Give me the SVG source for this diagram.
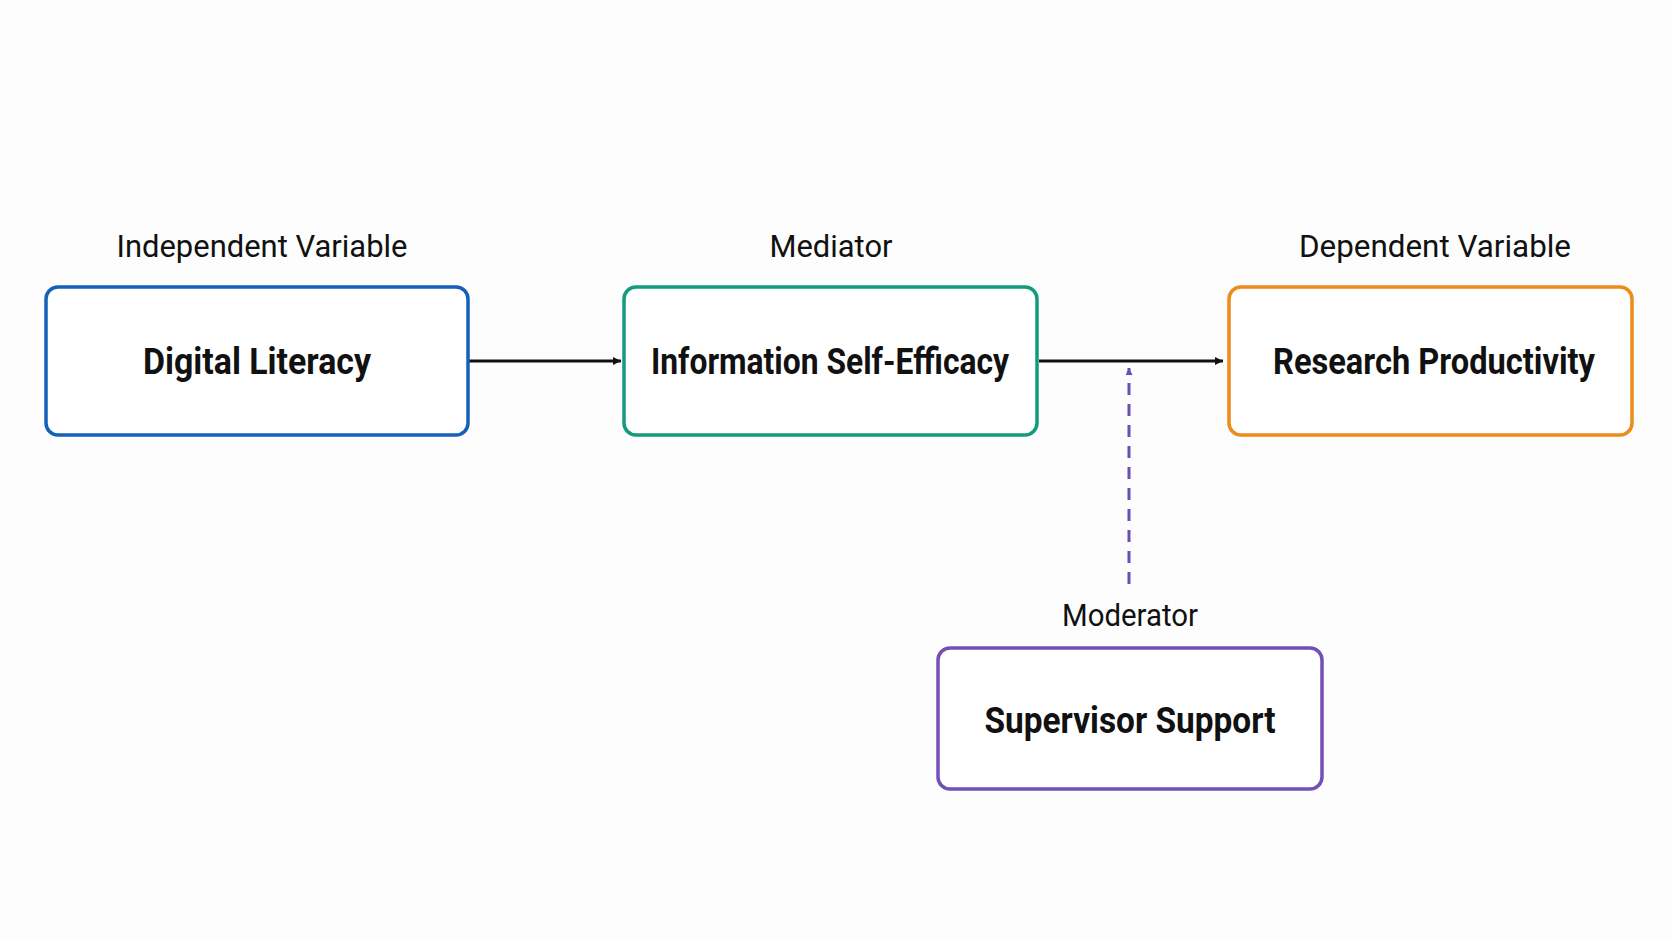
<svg xmlns="http://www.w3.org/2000/svg" width="1672" height="941" viewBox="0 0 1672 941">
<style>
.box{fill:#fff;stroke-width:3.5}
.t{font-family:Roboto,"Liberation Sans",sans-serif;font-weight:bold;font-size:36px;fill:#111;text-anchor:middle}
.l{font-family:Roboto,"Liberation Sans",sans-serif;font-size:32px;fill:#111;text-anchor:middle}
</style>
<defs>
<marker id="a" viewBox="0 0 10 10" refX="10" refY="5" markerWidth="8" markerHeight="8" markerUnits="userSpaceOnUse" orient="auto"><path d="M0,0L10,5L0,10z" fill="#111"/></marker>
<marker id="p" viewBox="0 0 10 10" refX="10" refY="5" markerWidth="7" markerHeight="7" markerUnits="userSpaceOnUse" orient="auto"><path d="M0,0L10,5L0,10z" fill="#6a4fb5"/></marker>
</defs>
<rect width="1672" height="941" fill="#fdfdfd"/>
<g id="connectors">
<line x1="469" y1="361" x2="621" y2="361" stroke="#111" stroke-width="3" marker-end="url(#a)" style="--m:0"/>
<line x1="1039" y1="361" x2="1223" y2="361" stroke="#111" stroke-width="3" marker-end="url(#a)"/>
<line x1="1129" y1="584" x2="1129" y2="368" stroke="#6a4fb5" stroke-width="3" stroke-dasharray="12,9" marker-end="url(#p)"/>
</g>
<g id="n1"><text class="l" x="262" y="257" textLength="291" lengthAdjust="spacingAndGlyphs">Independent Variable</text>
<rect class="box" x="46" y="287" width="422" height="148" rx="12" stroke="#1560b8"/>
<text class="t" x="257" y="374" textLength="228" lengthAdjust="spacingAndGlyphs">Digital Literacy</text></g>
<g id="n2"><text class="l" x="831" y="257" textLength="123" lengthAdjust="spacingAndGlyphs">Mediator</text>
<rect class="box" x="624" y="287" width="413" height="148" rx="12" stroke="#149a7e"/>
<text class="t" x="830" y="374" textLength="358" lengthAdjust="spacingAndGlyphs">Information Self-Efficacy</text></g>
<g id="n3"><text class="l" x="1435" y="257" textLength="272" lengthAdjust="spacingAndGlyphs">Dependent Variable</text>
<rect class="box" x="1229" y="287" width="403" height="148" rx="12" stroke="#ee8c1a"/>
<text class="t" x="1434" y="374" textLength="322" lengthAdjust="spacingAndGlyphs">Research Productivity</text></g>
<g id="n4"><text class="l" x="1130" y="626" textLength="136" lengthAdjust="spacingAndGlyphs">Moderator</text>
<rect class="box" x="938" y="648" width="384" height="141" rx="12" stroke="#7350b8"/>
<text class="t" x="1130" y="733" textLength="291" lengthAdjust="spacingAndGlyphs">Supervisor Support</text></g>
</svg>
